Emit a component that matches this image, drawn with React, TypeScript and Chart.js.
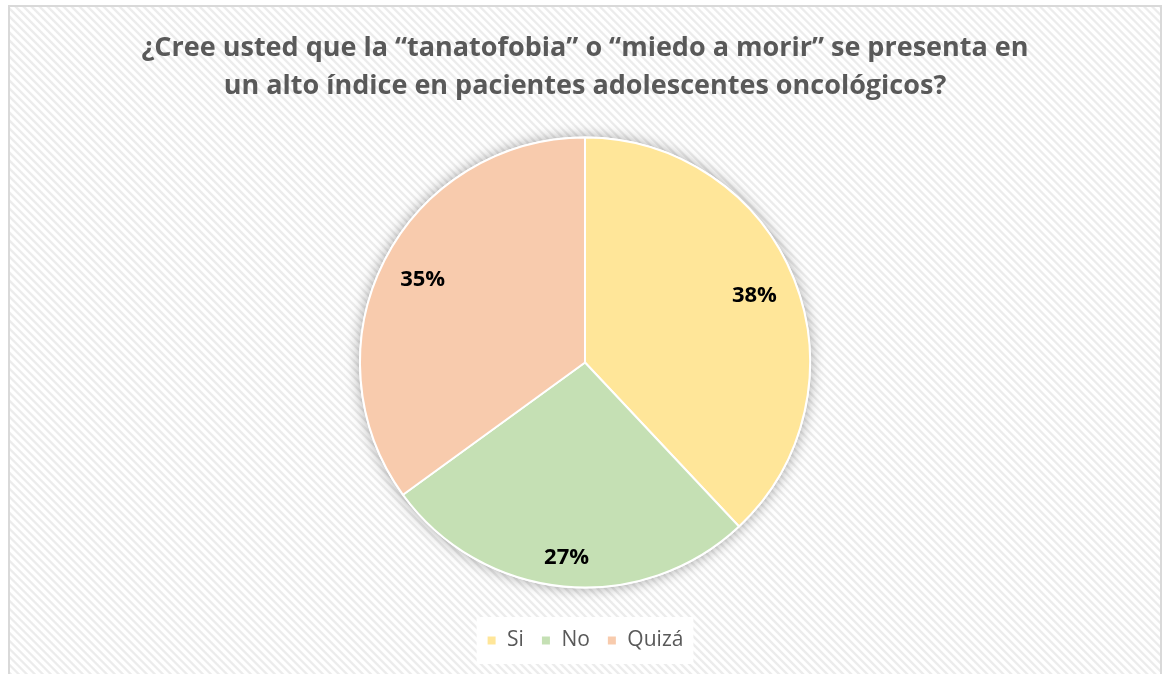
import React, { useEffect, useRef } from "react";
import { Chart, registerables } from "chart.js";

Chart.register(...registerables);

const titleLines = [
  "¿Cree usted que la “tanatofobia” o “miedo a morir” se presenta en",
  "un alto índice en pacientes adolescentes oncológicos?",
];
const categories = ["Si", "No", "Quizá"];
const values = [38, 27, 35];
const colors = ["#FFE699", "#C5E0B4", "#F8CBAD"];
const labelRadiusFractions = [0.81, 0.87, 0.81];

const FONT = "'Open Sans', 'DejaVu Sans', sans-serif";

const shadowPlugin = {
  id: "pieShadow",
  beforeDatasetsDraw(chart: any) {
    const meta = chart.getDatasetMeta(0);
    const arc = meta.data[0];
    if (!arc) return;
    const { x, y, outerRadius } = arc.getProps(["x", "y", "outerRadius"], true);
    const ctx = chart.ctx;
    ctx.save();
    ctx.shadowColor = "rgba(0,0,0,0.35)";
    ctx.shadowBlur = 14;
    ctx.shadowOffsetX = 0;
    ctx.shadowOffsetY = 0;
    ctx.fillStyle = "#ffffff";
    ctx.beginPath();
    ctx.arc(x, y, outerRadius + 1, 0, Math.PI * 2);
    ctx.fill();
    ctx.restore();
  },
};

const labelPlugin = {
  id: "pieLabels",
  afterDatasetsDraw(chart: any) {
    const meta = chart.getDatasetMeta(0);
    const data = chart.data.datasets[0].data as number[];
    const total = data.reduce((a, b) => a + b, 0);
    const ctx = chart.ctx;
    ctx.save();
    ctx.font = `bold 22px ${FONT}`;
    ctx.fillStyle = "#000000";
    ctx.textAlign = "center";
    ctx.textBaseline = "middle";
    meta.data.forEach((arc: any, i: number) => {
      const { x, y, startAngle, endAngle, outerRadius } = arc.getProps(
        ["x", "y", "startAngle", "endAngle", "outerRadius"],
        true
      );
      const mid = (startAngle + endAngle) / 2;
      const r = outerRadius * labelRadiusFractions[i];
      const text = Math.round((data[i] / total) * 100) + "%";
      ctx.fillText(text, x + Math.cos(mid) * r, y + Math.sin(mid) * r);
    });
    ctx.restore();
  },
};

const legendBgPlugin = {
  id: "legendBg",
  beforeDraw(chart: any) {
    const boxes = chart.legend && chart.legend.legendHitBoxes;
    if (!boxes || !boxes.length) return;
    let l = Infinity, r = -Infinity, t = Infinity, b = -Infinity;
    boxes.forEach((h: any) => {
      l = Math.min(l, h.left);
      r = Math.max(r, h.left + h.width);
      t = Math.min(t, h.top);
      b = Math.max(b, h.top + h.height);
    });
    const cy = (t + b) / 2;
    const ctx = chart.ctx;
    ctx.save();
    ctx.fillStyle = "#ffffff";
    ctx.fillRect(l - 10, cy - 23.5, r - l + 20, 47);
    ctx.restore();
  },
};

export default function App() {
  const canvasRef = useRef<HTMLCanvasElement | null>(null);

  useEffect(() => {
    if (!canvasRef.current) return;
    const chart = new Chart(canvasRef.current, {
      type: "pie",
      data: {
        labels: categories,
        datasets: [
          {
            data: values,
            backgroundColor: colors,
            borderColor: "#ffffff",
            borderWidth: 2,
            radius: 225,
          },
        ],
      },
      options: {
        animation: false,
        responsive: true,
        maintainAspectRatio: false,
        layout: { padding: { top: 0, bottom: 26, left: 0, right: 0 } },
        plugins: {
          tooltip: { enabled: false },
          title: {
            display: true,
            text: titleLines,
            color: "#595959",
            font: { family: FONT, size: 27, weight: "bold", lineHeight: 38 / 27 },
            padding: { top: 22, bottom: 7 },
          },
          legend: {
            display: true,
            position: "bottom",
            labels: {
              color: "#595959",
              font: { family: FONT, size: 21 },
              boxWidth: 10,
              boxHeight: 10,
              padding: 17,
            },
          },
        },
      },
      plugins: [legendBgPlugin, shadowPlugin, labelPlugin],
    } as any);
    return () => chart.destroy();
  }, []);

  return (
    <div
      style={{
        position: "absolute",
        left: 8,
        top: 5,
        width: 1150,
        height: 680,
        border: "2px solid #d9d9d9",
        overflow: "hidden",
        background:
          "repeating-linear-gradient(45deg, #ffffff 0px, #ffffff 2.3px, #ececec 3.3px, #ececec 4.6px, #ffffff 5.66px)",
      }}
    >
      <div style={{ position: "relative", width: 1150, height: 680 }}>
        <canvas ref={canvasRef} />
      </div>
    </div>
  );
}
